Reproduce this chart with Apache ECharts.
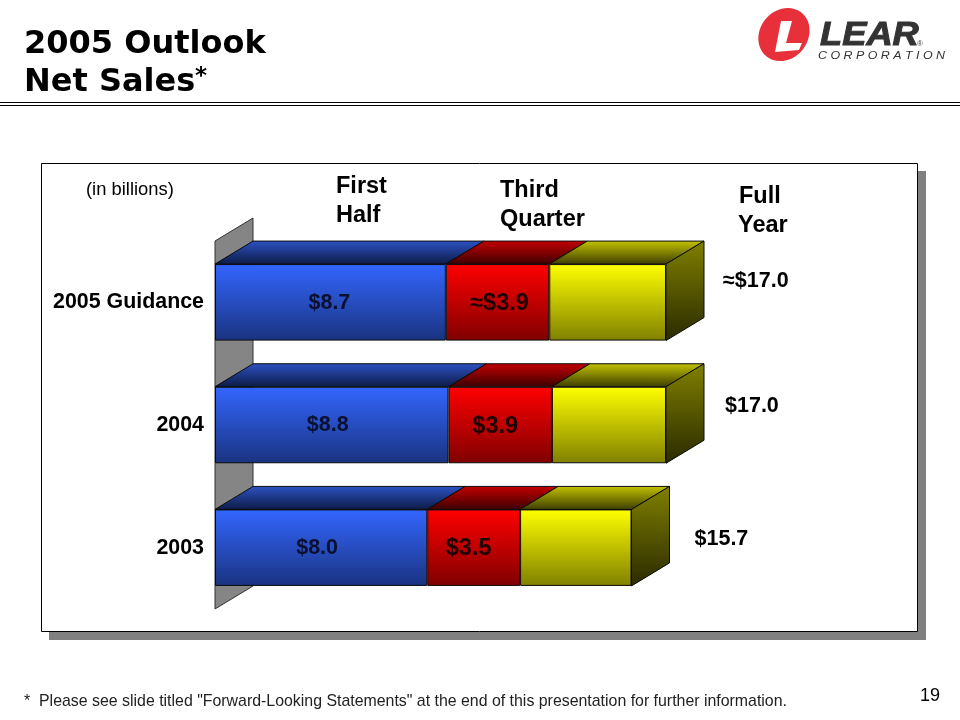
<!DOCTYPE html>
<html>
<head>
<meta charset="utf-8">
<style>html,body{margin:0;padding:0;background:#fff}#c{width:960px;height:720px}</style>
<script src="https://cdn.jsdelivr.net/npm/echarts@6/dist/echarts.min.js"></script>
</head>
<body>
<div id="c"></div>
<script>
// ---- data ----
const categories = ['2005 Guidance', '2004', '2003'];
const firstHalf = [8.7, 8.8, 8.0];
const thirdQuarter = [3.9, 3.9, 3.5];
const balanceOfYear = [4.4, 4.3, 4.2];
const firstHalfLabels = ['$8.7', '$8.8', '$8.0'];
const thirdQuarterLabels = ['\u2248$3.9', '$3.9', '$3.5'];
const fullYearLabels = ['\u2248$17.0', '$17.0', '$15.7'];

// ---- layout and style ----
const FONT = '"Liberation Sans", Arial, sans-serif';
const DX = 38, DY = 23, BAR_H = 76.5;
const firstOffsets = [[-1, 1], [-4, 0], [-4, 0]];
const thirdOffsets = [[2, 1], [-5, 2], [-5, 1]];
const fullOffsets = [[57, -21], [59, -18.5], [63, -8.5]];
const lin = (a, b) => new echarts.graphic.LinearGradient(0, 0, 0, 1, [{offset: 0, color: a}, {offset: 1, color: b}]);
const faces = [
  {front: ['#3366ff', '#1a3380'], top: ['#2d52c4', '#0c1a44']},
  {front: ['#ff0000', '#800000'], top: ['#c40000', '#3c0000']},
  {front: ['#ffff00', '#808000'], top: ['#c4c400', '#3c3c00']}
];
const sideFace = ['#808000', '#2a2a00'];
const EDGE = '#0a0a0a';

const segments = [firstHalf, thirdQuarter, balanceOfYear];
const depthData = [];
categories.forEach((_, c) => {
  let s = 0;
  segments.forEach((seg, k) => { depthData.push([s, s + seg[c], c, k]); s += seg[c]; });
});

function renderDepth(params, api) {
  const a = api.coord([api.value(0), api.value(2)]);
  const b = api.coord([api.value(1), api.value(2)]);
  const k = api.value(3);
  const top = a[1] - BAR_H / 2, bot = a[1] + BAR_H / 2;
  const children = [{
    type: 'polygon',
    shape: {points: [[a[0], top], [b[0], top], [b[0] + DX, top - DY], [a[0] + DX, top - DY]]},
    style: {fill: lin(faces[k].top[0], faces[k].top[1]), stroke: EDGE, lineWidth: 1}
  }];
  if (k === 2) {
    children.push({
      type: 'polygon',
      shape: {points: [[b[0], top], [b[0] + DX, top - DY], [b[0] + DX, bot - DY], [b[0], bot]]},
      style: {fill: lin(sideFace[0], sideFace[1]), stroke: EDGE, lineWidth: 1}
    });
  }
  return {type: 'group', children};
}
function renderWall(params, api) {
  const g = params.coordSys;
  return {
    type: 'polygon',
    shape: {points: [[g.x, g.y], [g.x + DX, g.y - DY], [g.x + DX, g.y + g.height - DY], [g.x, g.y + g.height]]},
    style: {fill: '#858585', stroke: '#333', lineWidth: 1}
  };
}
function renderFull(params, api) {
  const i = params.dataIndex;
  const p = api.coord([api.value(0), api.value(1)]);
  return {
    type: 'text',
    x: p[0] + fullOffsets[i][0], y: p[1] + fullOffsets[i][1],
    style: {text: fullYearLabels[i], fontFamily: FONT, fontWeight: 'bold', fontSize: 21.5,
            fill: '#000', textAlign: 'left', textVerticalAlign: 'middle'}
  };
}
const barSeries = (name, values, k, labels, offsets, color, size) => ({
  name, type: 'bar', stack: 'sales', barWidth: BAR_H, z: 5,
  itemStyle: {color: lin(faces[k].front[0], faces[k].front[1]), borderColor: EDGE, borderWidth: 1},
  data: values.map((v, i) => ({
    value: v,
    label: labels ? {show: true, position: 'inside', formatter: labels[i], offset: offsets[i],
      fontFamily: FONT, fontWeight: 'bold', fontSize: size, color} : {show: false}
  }))
});
const T = (text, x, y, size, weight, extra, props) => Object.assign({
  type: 'text', x, y,
  style: Object.assign({text, fontFamily: FONT, fontSize: size, fontWeight: weight, fill: '#000',
    textAlign: 'left', textVerticalAlign: 'middle'}, extra || {})
}, props || {});

const option = {
  animation: false,
  backgroundColor: '#fff',
  title: {
    text: '2005 Outlook\nNet Sales', left: 19, top: 21,
    textStyle: {fontFamily: '"DejaVu Sans"', fontWeight: 'bold', fontSize: 32, lineHeight: 38, color: '#000'}
  },
  grid: {left: 215, top: 241, width: 530.6, height: 368},
  xAxis: {type: 'value', min: 0, max: 20, show: false},
  yAxis: {
    type: 'category', data: categories, inverse: true,
    axisLine: {show: false}, axisTick: {show: false}, splitLine: {show: false},
    axisLabel: {margin: 11, fontFamily: FONT, fontWeight: 'bold', fontSize: 21.4, color: '#000', padding: [2, 0, 0, 0]}
  },
  graphic: [
    {type: 'rect', shape: {x: 49, y: 171, width: 877, height: 469}, style: {fill: '#808080'}},
    {type: 'rect', shape: {x: 41.5, y: 163.5, width: 876, height: 468}, style: {fill: '#fff', stroke: '#000', lineWidth: 1}},
    {type: 'line', shape: {x1: 0, y1: 102.5, x2: 960, y2: 102.5}, style: {stroke: '#000', lineWidth: 1}},
    {type: 'line', shape: {x1: 0, y1: 105.5, x2: 960, y2: 105.5}, style: {stroke: '#000', lineWidth: 1}},
    T('*', 195, 77, 23, 'bold', {fontFamily: '"DejaVu Sans"'}),
    T('(in billions)', 86, 189.5, 18.4, 'normal'),
    T('First', 336, 186.5, 23.5, 'bold'),
    T('Half', 336, 215.5, 23.5, 'bold'),
    T('Third', 500, 190.5, 23.5, 'bold'),
    T('Quarter', 500, 219.5, 23.5, 'bold'),
    T('Full', 739, 196.5, 23.5, 'bold'),
    T('Year', 738, 225.5, 23.5, 'bold'),
    T('*  Please see slide titled "Forward-Looking Statements" at the end of this presentation for further information.', 24, 702, 15.9, 'normal', {fill: '#222'}),
    T('19', 920, 696, 18, 'normal'),
    // logo
    {type: 'ellipse', shape: {cx: 0, cy: 0, rx: 28, ry: 24}, x: 784, y: 34.5, rotation: 0.9, style: {fill: '#e8303a'}},
    {type: 'polygon', shape: {points: [[781, 21], [792, 21], [786, 43], [802, 43], [799, 50], [775, 52]]}, style: {fill: '#fff'}},
    T('LEAR', 820, 36, 33, 'bold', {fontStyle: 'italic', fill: '#333', stroke: '#333', lineWidth: 1}, {scaleX: 1.1}),
    T('\u00ae', 917, 44, 8, 'normal', {fill: '#444'}),
    T('C O R P O R A T I O N', 818, 56, 11, 'normal', {fontStyle: 'italic', fill: '#333'}, {scaleX: 1.13})
  ],
  series: [
    {name: 'Wall', type: 'custom', z: 1, silent: true, coordinateSystem: 'cartesian2d', renderItem: renderWall, data: [[0, 0]], encode: {x: 0, y: 1}},
    {name: 'Depth', type: 'custom', z: 3, silent: true, coordinateSystem: 'cartesian2d', renderItem: renderDepth, data: depthData, encode: {x: [0, 1], y: 2}},
    barSeries('First Half', firstHalf, 0, firstHalfLabels, firstOffsets, '#0a1030', 21.5),
    barSeries('Third Quarter', thirdQuarter, 1, thirdQuarterLabels, thirdOffsets, '#200000', 23.5),
    barSeries('Balance of Year', balanceOfYear, 2, null),
    {name: 'Full Year', type: 'custom', z: 6, silent: true, coordinateSystem: 'cartesian2d', renderItem: renderFull,
     data: categories.map((_, i) => [firstHalf[i] + thirdQuarter[i] + balanceOfYear[i], i]), encode: {x: 0, y: 1}}
  ]
};
echarts.init(document.getElementById('c'), null, {renderer: 'canvas'}).setOption(option);
</script>
</body>
</html>
